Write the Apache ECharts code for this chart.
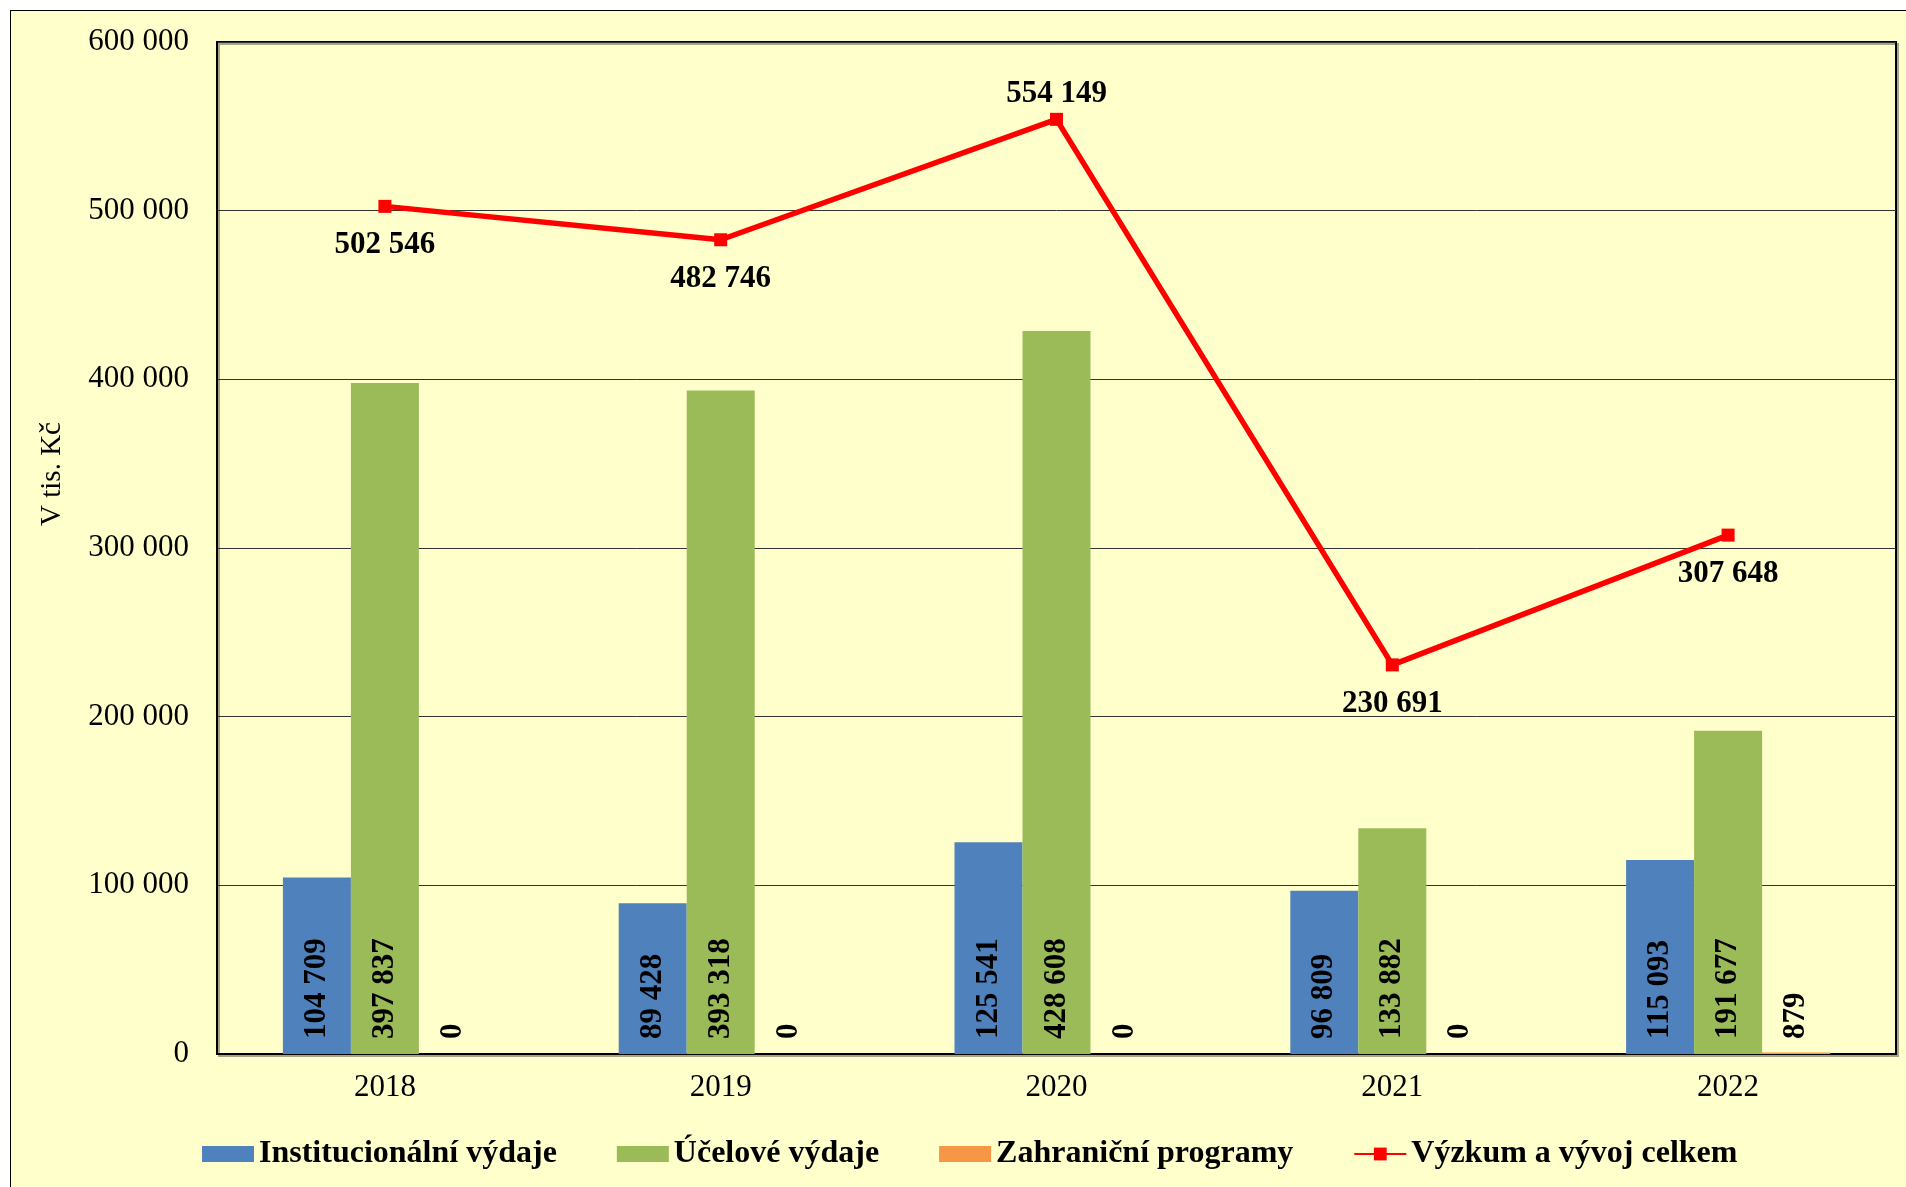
<!DOCTYPE html>
<html>
<head>
<meta charset="utf-8">
<script src="https://cdn.jsdelivr.net/npm/echarts@6/dist/echarts.min.js"></script>
<style>
  html, body { margin: 0; padding: 0; background: #fff; overflow: hidden; }
  #chart {
    position: absolute; left: 10px; top: 10px;
    width: 1896px; height: 1177px;
    border-left: 1px solid #000; border-top: 1px solid #000;
    background: #FFFFCC;
  }
</style>
</head>
<body>
<div id="chart"></div>
<script>
// data
const years = ['2018', '2019', '2020', '2021', '2022']
const institucionalni = [104709, 89428, 125541, 96809, 115093]
const ucelove = [397837, 393318, 428608, 133882, 191677]
const zahranicni = [0, 0, 0, 0, 879]
const celkem = [502546, 482746, 554149, 230691, 307648]
const celkemLabelPos = ['bottom', 'bottom', 'top', 'bottom', 'bottom']

const FONT = '"Liberation Serif", "Times New Roman", serif'

// 100000 -> "100 000"
const fmt = v => String(v).replace(/\B(?=(\d{3})+(?!\d))/g, ' ')

const barLabel = {
  show: true,
  position: 'insideBottom',
  distance: 15,
  rotate: 90,
  align: 'left',
  verticalAlign: 'middle',
  fontFamily: FONT,
  fontWeight: 'bold',
  fontSize: 31,
  color: '#000',
  formatter: p => fmt(p.value)
}

const myChart = echarts.init(document.getElementById('chart'))

const option = {
  backgroundColor: 'transparent',
  animation: false,
  textStyle: { fontFamily: FONT, color: '#000' },
  grid: {
    left: 206, top: 31, right: 11, bottom: 134,
    show: true,
    borderColor: '#000',
    borderWidth: 2,
    backgroundColor: 'transparent',
    shadowColor: 'rgba(0,0,0,0.35)',
    shadowOffsetX: 2,
    shadowOffsetY: 2
  },
  legend: {
    left: 186,
    top: 1122,
    itemWidth: 52,
    itemHeight: 16,
    itemGap: 60,
    textStyle: { fontFamily: FONT, fontWeight: 'bold', fontSize: 32, color: '#000' },
    data: [
      { name: 'Institucionální výdaje', icon: 'rect' },
      { name: 'Účelové výdaje', icon: 'rect' },
      { name: 'Zahraniční programy', icon: 'rect' },
      { name: 'Výzkum a vývoj celkem' }
    ]
  },
  xAxis: {
    type: 'category',
    data: years,
    axisTick: { show: false },
    axisLine: { lineStyle: { color: '#000', width: 2 } },
    axisLabel: { fontFamily: FONT, fontSize: 31, color: '#000', margin: 18 }
  },
  yAxis: {
    type: 'value',
    min: 0,
    max: 600000,
    interval: 100000,
    name: 'V tis. Kč',
    nameLocation: 'middle',
    nameRotate: 90,
    nameGap: 150,
    nameTextStyle: { fontFamily: FONT, fontSize: 29, color: '#000', padding: [0, 0, 0, 148] },
    axisLine: { show: true, lineStyle: { color: '#000', width: 2 } },
    axisTick: { show: false },
    axisLabel: { fontFamily: FONT, fontSize: 31, color: '#000', margin: 28, formatter: v => fmt(v) },
    splitLine: { lineStyle: { color: '#333', width: 1 } }
  },
  series: [
    {
      name: 'Institucionální výdaje',
      type: 'bar',
      data: institucionalni,
      barWidth: 68,
      barGap: '0%',
      itemStyle: { color: '#4F81BD' },
      label: barLabel
    },
    {
      name: 'Účelové výdaje',
      type: 'bar',
      data: ucelove,
      barWidth: 68,
      barGap: '0%',
      itemStyle: { color: '#9BBB59' },
      label: barLabel
    },
    {
      name: 'Zahraniční programy',
      type: 'bar',
      data: zahranicni,
      barWidth: 68,
      barGap: '0%',
      itemStyle: { color: '#F79646' },
      label: barLabel
    },
    {
      name: 'Výzkum a vývoj celkem',
      type: 'line',
      z: 5,
      data: celkem.map((v, i) => ({
        value: v,
        label: { position: celkemLabelPos[i], distance: celkemLabelPos[i] === 'top' ? 3 : 17 }
      })),
      symbol: 'rect',
      symbolSize: 13,
      itemStyle: { color: '#FF0000' },
      lineStyle: { color: '#FF0000', width: 5.5 },
      label: {
        show: true,
        fontFamily: FONT,
        fontWeight: 'bold',
        fontSize: 31,
        color: '#000',
        formatter: p => fmt(p.value)
      }
    }
  ]
}

myChart.setOption(option)
window.addEventListener('resize', () => myChart.resize())
</script>
</body>
</html>
